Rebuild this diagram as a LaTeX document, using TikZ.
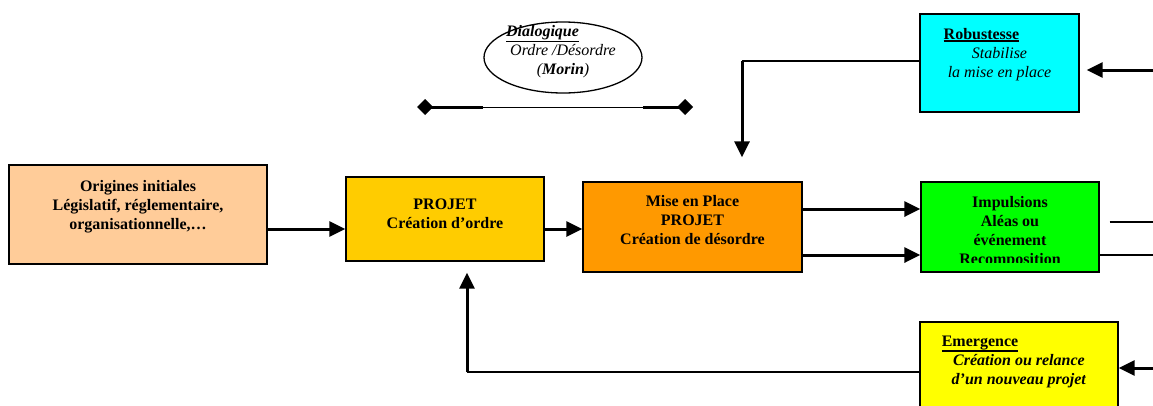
\documentclass[tikz,border=0pt]{standalone}
\usepackage{fontspec}
\setmainfont{Liberation Serif}
\usetikzlibrary{arrows.meta,shapes.geometric}

\definecolor{coulOrig}{HTML}{FFCC99}
\definecolor{coulProjet}{HTML}{FFCC00}
\definecolor{coulMise}{HTML}{FF9900}
\definecolor{coulImpuls}{HTML}{00FF00}
\definecolor{coulRobust}{HTML}{00FFFF}
\definecolor{coulEmerg}{HTML}{FFFF00}

\newcommand{\souligne}[1]{\setbox0\hbox{#1}\rlap{\rule[-\dimexpr\dp0+2pt\relax]{\wd0}{1.4pt}}\box0}

\tikzset{
	boite/.style={draw=black, line width=1.3pt, inner sep=0pt},
	texte/.style={font=\fontsize{16}{19}\selectfont, align=center, inner sep=0pt, anchor=north},
	gras/.style={texte, font=\fontsize{16}{19}\selectfont\bfseries},
	fleche/.style={line width=3pt, -{Triangle[length=16pt,width=15pt]}},
	trait/.style={line width=1.3pt}
}

\begin{document}
\begin{tikzpicture}[x=1pt,y=-1pt]
		%%%%% START %%%%%
		\useasboundingbox (0,0) rectangle (1153,405);
		\clip (0,0) rectangle (1153,405);
		
		% boites
		\node[boite, fill=coulOrig, minimum width=258pt, minimum height=99pt] (orig) at (138,214.5) {};
		\node[boite, fill=coulProjet, minimum width=198pt, minimum height=84pt] (projet) at (445,219) {};
		\node[boite, fill=coulMise, minimum width=219pt, minimum height=90pt] (mise) at (692.5,227) {};
		\node[boite, fill=coulImpuls, minimum width=178pt, minimum height=90pt] (impuls) at (1010,227) {};
		\node[boite, fill=coulRobust, minimum width=159pt, minimum height=98pt] (robust) at (999.5,63) {};
		\node[boite, fill=coulEmerg, minimum width=198pt, minimum height=98pt] (emerg) at (1019,371) {};
		\node[ellipse, draw, line width=1.3pt, minimum width=158pt, minimum height=71pt, inner sep=0pt] (dialog) at (563,57.5) {};
		
		% textes
		\node[gras] (orig-t) at ([yshift=-16pt]orig.north) {Origines initiales\\Législatif, réglementaire,\\organisationnelle,…};
		\node[gras] (projet-t) at ([yshift=-22pt]projet.north) {PROJET\\Création d’ordre};
		\node[gras] (mise-t) at ([yshift=-14pt]mise.north) {Mise en Place\\PROJET\\Création de désordre};
		\begin{scope}
			\clip (impuls.north west) rectangle ([yshift=10pt]impuls.south east);
			\node[gras] (impuls-t) at ([yshift=-15pt]impuls.north) {Impulsions\\Aléas ou\\événement\\Recomposition};
		\end{scope}
		\node[texte] (robust-t) at ([yshift=-15pt]robust.north) {\souligne{\textbf{Robustesse}}\hspace*{36pt}\\\textit{Stabilise}\\\textit{la mise en place}};
		\node[texte] (emerg-t) at ([yshift=-14pt]emerg.north) {\souligne{\textbf{Emergence}}\hspace*{78pt}\\\textbf{\textit{Création ou relance}}\\\textbf{\textit{d’un nouveau projet}}};
		\node[texte] (dialog-t) at ([yshift=-4pt]dialog.north) {\souligne{\textbf{\textit{Dialogique}}}\hspace*{41pt}\\\textit{Ordre /Désordre}\\\textit{(\textbf{Morin})}};
		
		% fleches
		\draw[fleche] ([yshift=-14.5pt]orig.east) -- ([yshift=-10pt]projet.west);
		\draw[fleche] ([yshift=-10pt]projet.east) -- ([yshift=-2pt]mise.west);
		\draw[fleche] ([yshift=18pt]mise.east) -- ([yshift=18pt]impuls.west);
		\draw[fleche] ([yshift=-28pt]mise.east) -- ([yshift=-28pt]impuls.west);
		
		\coordinate (sortieH) at (1160,222);
		\coordinate (sortieB) at (1160,255);
		\draw[trait] ([xshift=10pt,yshift=5pt]impuls.east) -- (sortieH);
		\draw[line width=1.6pt] ([yshift=-28pt]impuls.east) -- (sortieB);
		
		\coordinate (entreeR) at (1160,70);
		\draw[fleche] (entreeR) -- ([xshift=7pt,yshift=-7pt]robust.east);
		\coordinate (coinH) at (742,61);
		\draw[trait] ([yshift=2pt]robust.west) -- (coinH);
		\draw[fleche] (coinH) -- ([yshift=24pt]mise.north -| coinH);
		
		\coordinate (entreeE) at (1160,368);
		\draw[fleche] (entreeE) -- ([yshift=3pt]emerg.east);
		\coordinate (coinB) at (467,372);
		\draw[line width=2pt] ([yshift=-1pt]emerg.west) -- (coinB);
		\draw[fleche] (coinB) -- ([yshift=-11pt]projet.south -| coinB);
		
		% ligne a losanges
		\coordinate (losG) at (417,107);
		\coordinate (losD) at (693,107);
		\draw[line width=3pt, {Diamond[length=16pt,width=16pt]}-] (losG) -- (483,107);
		\draw[line width=1pt] (483,107) -- (643,107);
		\draw[line width=3pt, -{Diamond[length=16pt,width=16pt]}] (643,107) -- (losD);
		
		%%%%% END %%%%%
\end{tikzpicture}
\end{document}
